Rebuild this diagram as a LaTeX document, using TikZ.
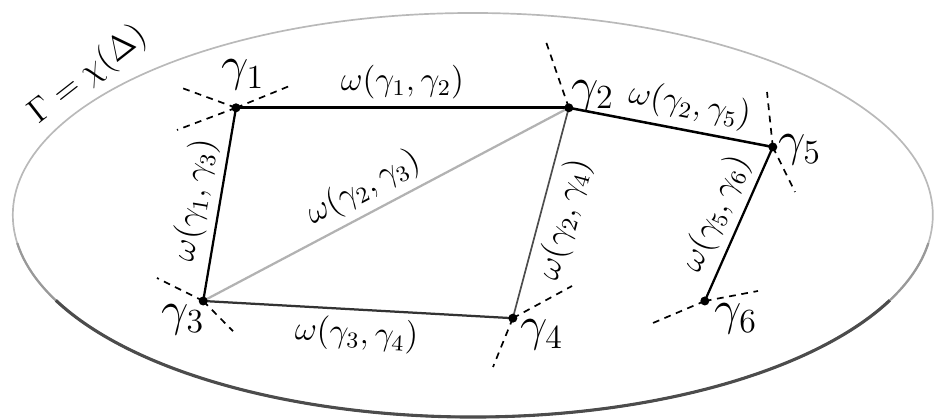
\documentclass[tikz,border=0pt]{standalone}
\usepackage{amsmath,amssymb}
\usetikzlibrary{calc,positioning}

\begin{document}
\begin{tikzpicture}[
   edge/.style={line width=0.9pt,black},
   tang/.style={dash pattern=on 2.4pt off 2pt,line width=0.6pt},
   vlab/.style={font=\LARGE,inner sep=0pt},
   wlab/.style={font=\large,sloped,inner sep=2.5pt}]
  \useasboundingbox (0,0) rectangle (11.675,5.2375);
  % the region Gamma (darker towards the bottom)
  \draw[gray!55,line width=0.6pt] (5.91,2.55) ellipse (5.75 and 2.525);
  \foreach \a/\b/\c/\w in {188/352/gray!80/0.8pt, 205/335/black!70/1.1pt}
    \draw[\c,line width=\w] ($(5.91,2.55)+(\a:5.75 and 2.525)$)
      arc[start angle=\a,end angle=\b,x radius=5.75,y radius=2.525];
  \node[font=\large,rotate=38] (gam) at (1.1,4.3) {$\Gamma=\chi(\Delta)$};
  % vertices
  \coordinate (g1) at (2.95,3.89);
  \coordinate (g2) at (7.11,3.89);
  \coordinate (g3) at (2.54,1.475);
  \coordinate (g4) at (6.41,1.26);
  \coordinate (g5) at (9.66,3.40);
  \coordinate (g6) at (8.81,1.475);
  % dashed directions at the vertices
  \foreach \v/\dx/\dy [count=\k] in {g1/-0.675/0.2475, g1/0.70/0.285, g1/-0.7375/-0.2775,
      g2/-0.285/0.825, g3/-0.5775/0.2875, g3/0.3725/-0.3775,
      g4/0.74/0.4025, g4/-0.2475/-0.61, g5/-0.0725/0.6875, g5/0.2775/-0.5625,
      g6/-0.6475/-0.275, g6/0.665/0.125}
  {
    \coordinate (t\k) at ($(\v)+(\dx,\dy)$);
    \draw[tang] (\v) -- (t\k);
  }
  % edges and weights
  \draw[edge,line width=1.2pt] (g1) -- (g2) node[wlab,midway,above] (w12) {$\omega(\gamma_1,\gamma_2)$};
  \draw[edge,line width=0.8pt] (g3) -- (g1) node[wlab,midway,above] (w13) {$\omega(\gamma_1,\gamma_3)$};
  \draw[edge,gray!60,line width=0.8pt] (g3) -- (g2) node[wlab,black,pos=0.47,above] (w23) {$\omega(\gamma_2,\gamma_3)$};
  \draw[edge,black!70,line width=0.6pt] (g4) -- (g2) node[wlab,black,midway,below] (w24) {$\omega(\gamma_2,\gamma_4)$};
  \draw[edge,black!80,line width=0.8pt] (g3) -- (g4) node[wlab,black,midway,below] (w34) {$\omega(\gamma_3,\gamma_4)$};
  \draw[edge] (g2) -- (g5) node[wlab,pos=0.57,above] (w25) {$\omega(\gamma_2,\gamma_5)$};
  \draw[edge,line width=0.8pt] (g6) -- (g5) node[wlab,midway,above] (w56) {$\omega(\gamma_5,\gamma_6)$};
  % vertex dots
  \foreach \i in {1,...,6} \fill (g\i) circle (1.6pt);
  % vertex names
  \node[vlab] (n1) at (3.04,4.30) {$\gamma_1$};
  \node[vlab] (n2) at (7.41,4.04) {$\gamma_2$};
  \node[vlab] (n3) at (2.29,1.24) {$\gamma_3$};
  \node[vlab] (n4) at (6.775,1.05) {$\gamma_4$};
  \node[vlab] (n5) at (10.0,3.36) {$\gamma_5$};
  \node[vlab] (n6) at (9.2,1.25) {$\gamma_6$};
\end{tikzpicture}
\end{document}
